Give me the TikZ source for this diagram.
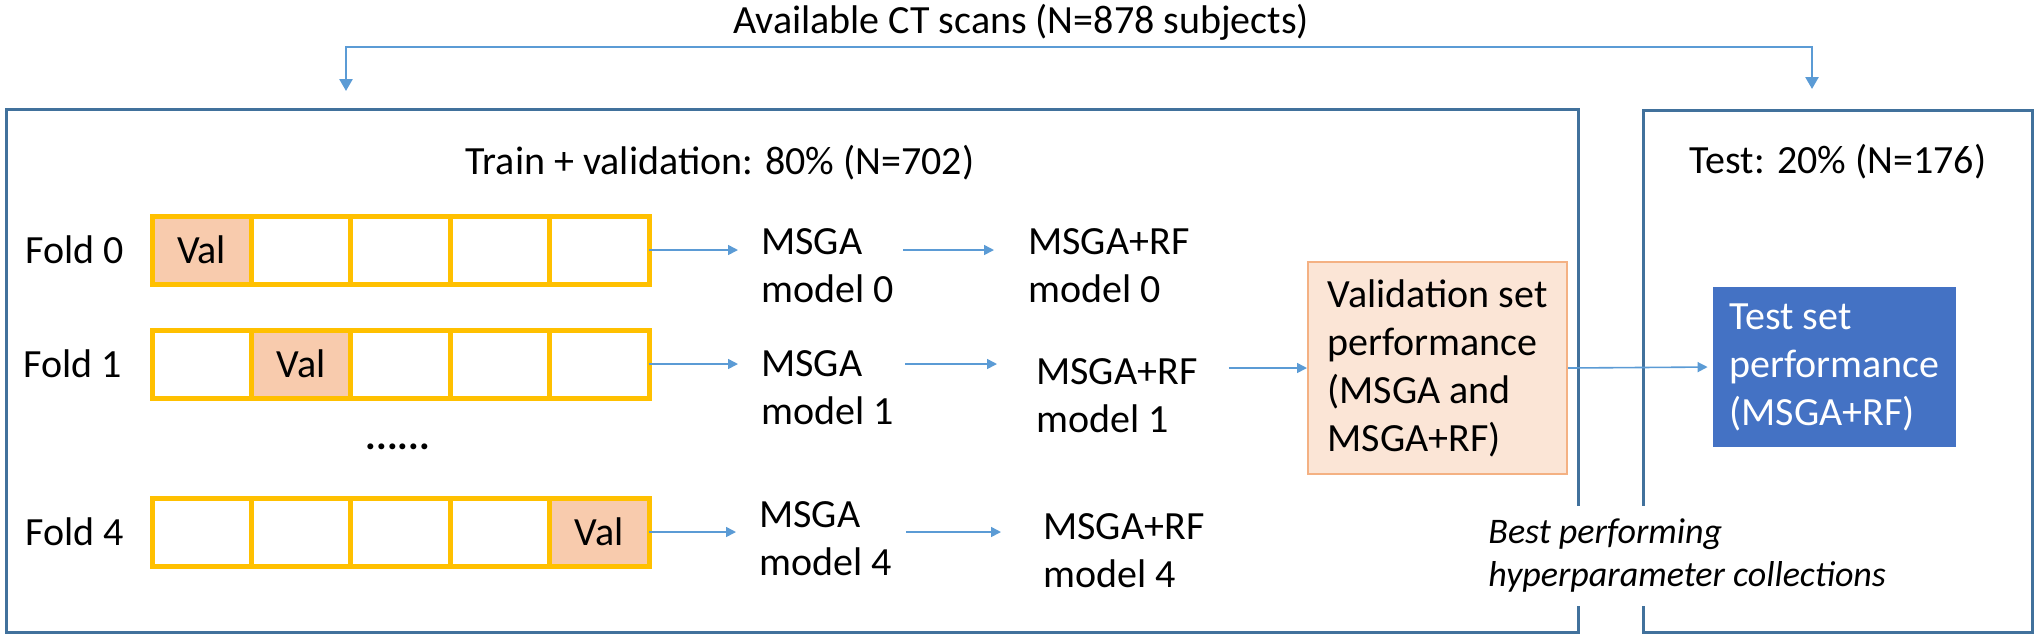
\documentclass[tikz,border=0pt]{standalone}
\usepackage{fontspec}
\setmainfont{Carlito}
\usetikzlibrary{positioning, arrows.meta}

\definecolor{frameblue}{RGB}{65,113,156}
\definecolor{arrowblue}{RGB}{91,155,213}
\definecolor{foldgold}{RGB}{255,192,0}
\definecolor{valpeach}{RGB}{248,203,173}
\definecolor{vsetfill}{RGB}{251,229,214}
\definecolor{vsetline}{RGB}{244,177,131}
\definecolor{testfill}{RGB}{68,114,196}

\begin{document}
\begin{tikzpicture}[
    x=0.5pt, y=-0.5pt,
    txt/.style={font=\fontsize{20pt}{24pt}\selectfont, inner sep=0pt},
    lines/.style={txt, align=left, anchor=west},
    panel/.style={draw=frameblue, line width=1.5pt, inner sep=0pt},
    cell/.style={draw=foldgold, line width=2.5pt, minimum width=49.7pt, minimum height=34pt,
                 outer sep=0pt, txt},
    valcell/.style={cell, fill=valpeach},
    vset/.style={txt, align=left, fill=vsetfill, draw=vsetline, line width=1pt,
                 minimum width=129.5pt, minimum height=106pt},
    tset/.style={txt, align=left, fill=testfill, text=white,
                 minimum width=121.5pt, minimum height=80pt},
    note/.style={font=\fontsize{18pt}{21.5pt}\selectfont\itshape, align=left, anchor=west,
                 fill=white, inner xsep=2pt, inner ysep=6.5pt},
    arr/.style={-{Triangle[length=5pt,width=5pt]}, line width=0.8pt, arrowblue},
    toparr/.style={{Triangle[length=6pt,width=6.5pt]}-{Triangle[length=6pt,width=6.5pt]},
                   line width=1.3pt, arrowblue},
]
\useasboundingbox (0,0) rectangle (2040,639);

\node[panel, minimum width=786pt, minimum height=261.5pt] (trainbox) at (792,370.5) {};
\node[panel, minimum width=194.5pt, minimum height=261pt] (testbox) at (1837.5,371) {};

\node[txt] (title) at (1021,22) {Available CT scans (N=878 subjects)};
\node[txt] (traintitle) at (720,163) {Train + validation: 80\% (N=702)};
\node[txt] (testtitle) at (1838,162) {Test: 20\% (N=176)};

\coordinate (split) at (1021,47);
\coordinate (intrain) at (346,91);
\coordinate (intest) at (1812,89);
\draw[toparr] (intrain) |- (split) -| (intest);

% fold 0
\node[txt] (fold0) at (75,250) {Fold 0};
\node[valcell] (f0-1) at (201.7,250) {Val};
\node[cell, right=0pt of f0-1] (f0-2) {};
\node[cell, right=0pt of f0-2] (f0-3) {};
\node[cell, right=0pt of f0-3] (f0-4) {};
\node[cell, right=0pt of f0-4] (f0-5) {};

% fold 1
\node[txt] (fold1) at (73,364) {Fold 1};
\node[cell] (f1-1) at (201.7,364) {};
\node[valcell, right=0pt of f1-1] (f1-2) {Val};
\node[cell, right=0pt of f1-2] (f1-3) {};
\node[cell, right=0pt of f1-3] (f1-4) {};
\node[cell, right=0pt of f1-4] (f1-5) {};

\node[txt, font=\fontsize{20pt}{24pt}\selectfont\bfseries] (dots) at (398,447) {......};

% fold 4
\node[txt] (fold4) at (75,532) {Fold 4};
\node[cell] (f4-1) at (201.7,532) {};
\node[cell, right=0pt of f4-1] (f4-2) {};
\node[cell, right=0pt of f4-2] (f4-3) {};
\node[cell, right=0pt of f4-3] (f4-4) {};
\node[valcell, right=0pt of f4-4] (f4-5) {Val};

\node[lines] (m0) at (761,266) {MSGA\\model 0};
\node[lines] (rf0) at (1028,266) {MSGA+RF\\model 0};
\node[lines] (m1) at (761,388) {MSGA\\model 1};
\node[lines] (rf1) at (1036,396) {MSGA+RF\\model 1};
\node[lines] (m4) at (759,539) {MSGA\\model 4};
\node[lines] (rf4) at (1043,551) {MSGA+RF\\model 4};

\node[vset] (valbox) at (1437.5,368) {Validation set\\performance\\(MSGA and\\MSGA+RF)};
\node[tset] (perf) at (1834.5,367) {Test set\\performance\\(MSGA+RF)};

\node[note] (best) at (1484,556) {Best performing\\hyperparameter collections};

\draw[arr, shorten >=11.5pt] (f0-5.east) -- (f0-5.east -| m0.west);
\draw[arr, shorten >=11.5pt] (f1-5.east) -- (f1-5.east -| m1.west);
\draw[arr, shorten >=11.5pt] (f4-5.east) -- (f4-5.east -| m4.west);

\draw[arr, shorten <=4.5pt, shorten >=17pt] (m0.east |- f0-5.east) -- (rf0.west |- f0-5.east);
\draw[arr, shorten <=5.5pt, shorten >=19.5pt] (m1.east |- f1-5.east) -- (rf1.west |- f1-5.east);
\draw[arr, shorten <=7pt, shorten >=21pt] (m4.east |- f4-5.east) -- (rf4.west |- f4-5.east);

\draw[arr, shorten <=15.5pt] (rf1.east |- valbox.west) -- (valbox.west);
\draw[arr, shorten >=2.5pt] (valbox.east) -- (perf.west);

\end{tikzpicture}
\end{document}
